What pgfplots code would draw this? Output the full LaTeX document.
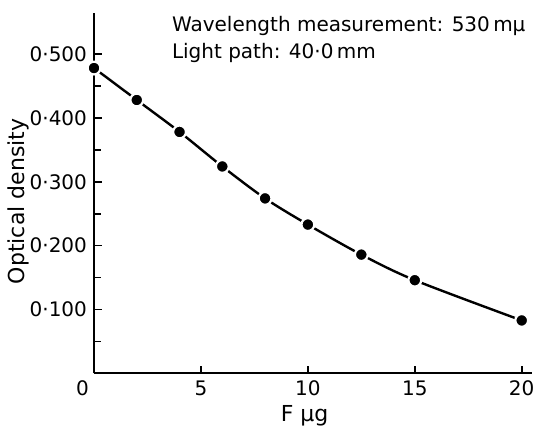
\documentclass[border=0pt]{standalone}
\usepackage{fontspec}
\setmainfont{DejaVu Sans}
\usepackage{pgfplots}
\pgfplotsset{compat=1.18}

\pgfplotstableread{
x    od
0    0.478
2    0.428
4    0.378
6    0.324
8    0.274
10   0.233
12.5 0.186
15   0.146
20   0.083
}\oddata

\begin{document}
\begin{tikzpicture}
  \useasboundingbox (-47pt,-26.25pt) rectangle (220.5pt,186.75pt);
  \begin{axis}[
      scale only axis,
      width=219.2pt, height=180.4pt,
      xmin=0, xmax=20.5,
      ymin=0, ymax=0.5646,
      axis lines=left,
      axis line style={-, line width=1pt},
      axis on top,
      clip=false,
      tick align=inside,
      major tick length=3.8pt,
      minor tick length=3.4pt,
      tick style={line width=0.8pt, black},
      xtick={5,10,15,20},
      xticklabels={5,10,15,20},
      extra x ticks={0},
      extra x tick labels={0},
      extra x tick style={major tick length=0pt, xticklabel style={xshift=-5.75pt}},
      ytick={0.1,0.2,0.3,0.4,0.5},
      yticklabels={0·100,0·200,0·300,0·400,0·500},
      minor ytick={0.05,0.15,0.25,0.35,0.45},
      tick label style={font=\fontsize{10}{12}\selectfont},
      xlabel={F μg},
      xlabel style={font=\fontsize{11}{13}\selectfont, at={(axis cs:9.85,0)}, anchor=base, yshift=-24.25pt},
      ylabel={Optical density},
      ylabel style={font=\fontsize{11}{13}\selectfont, at={(axis description cs:-0.1574,0.477)}, anchor=base},
    ]
    \addplot[black, line width=1.2pt, smooth, tension=0.5] table[x=x, y=od] {\oddata};
    \addplot[only marks, mark=*, mark size=3.2pt,
      mark options={fill=black, draw=white, line width=1.1pt}] table[x=x, y=od] {\oddata};
    \node[anchor=base west, inner sep=0pt, font=\fontsize{10}{12}\selectfont]
      at (axis cs:3.63,0.5344) {Wavelength measurement: 530\,mμ};
    \node[anchor=base west, inner sep=0pt, font=\fontsize{10}{12}\selectfont]
      at (axis cs:3.63,0.4933) {Light path: 40·0\,mm};
  \end{axis}
\end{tikzpicture}
\end{document}
